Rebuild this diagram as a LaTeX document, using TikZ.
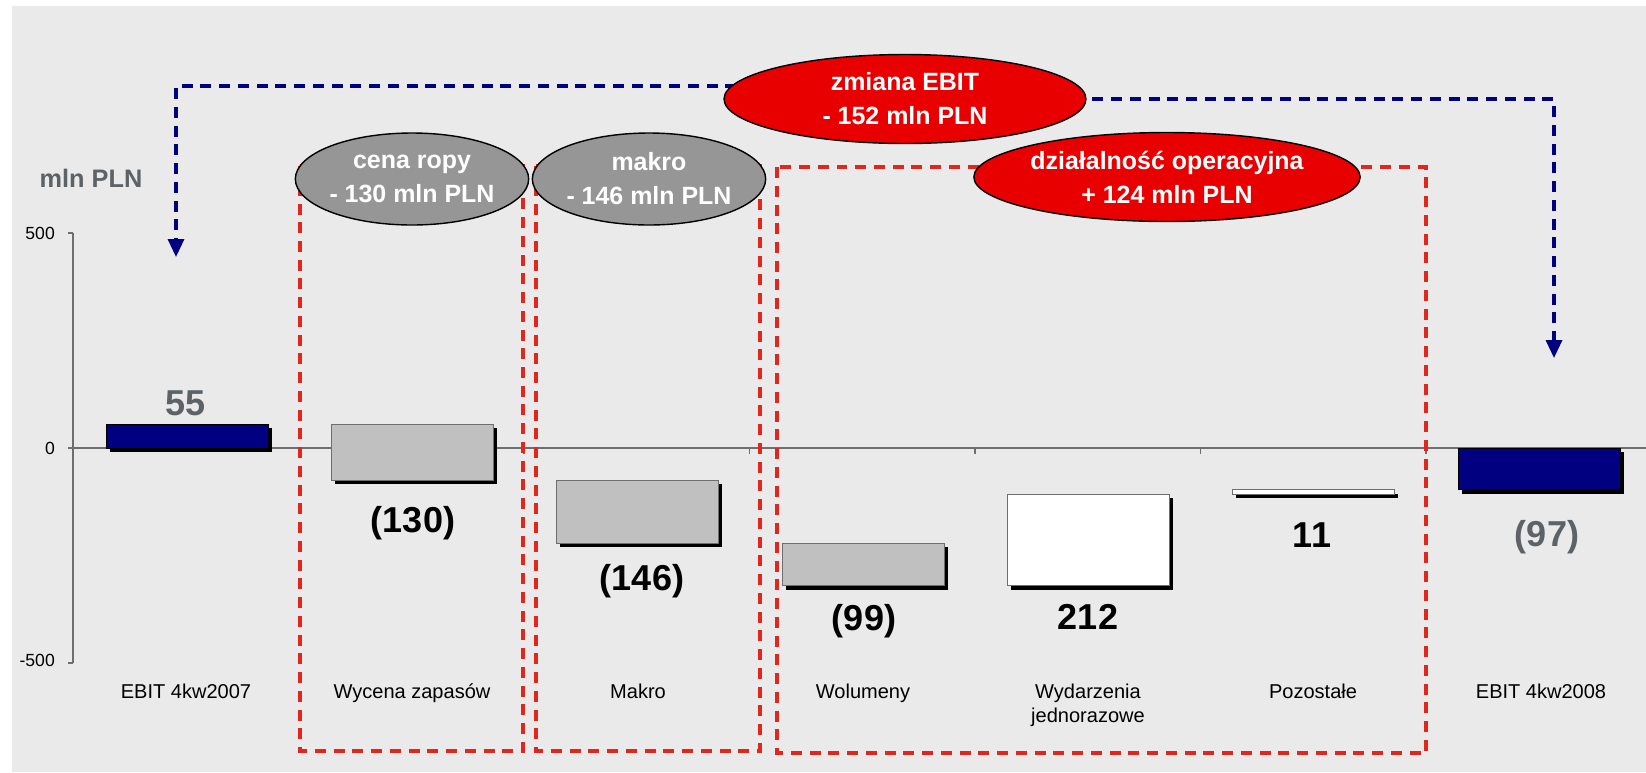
\documentclass[tikz,border=0pt]{standalone}
\usepackage{fontspec}
\setmainfont{Liberation Sans}
\usetikzlibrary{shapes.geometric,arrows.meta,calc,backgrounds}
\definecolor{tlo}{HTML}{EAEAEA}
\definecolor{granat}{HTML}{000080}
\definecolor{szary}{HTML}{C0C0C0}
\definecolor{szaryel}{HTML}{969696}
\definecolor{czerwony}{HTML}{E80000}
\definecolor{kreska}{HTML}{E3261B}
\definecolor{napis}{HTML}{5C6266}
\definecolor{os}{HTML}{6E6E6E}
\tikzset{
  elipsa/.style={ellipse, draw=black, line width=0.8pt, inner sep=0pt, align=center, text=white,
    font=\bfseries\fontsize{14.2}{19.3}\selectfont},
  ramka/.style={draw=kreska, line width=2pt, dash pattern=on 0.22cm off 0.155cm},
  strzalka/.style={draw=granat, line width=1.9pt, dash pattern=on 0.22cm off 0.155cm,
    -{Triangle[width=0.32cm,length=0.36cm]}},
  kategoria/.style={font=\fontsize{11.4}{13.7}\selectfont, align=center, anchor=north},
  wartosc/.style={font=\bfseries\fontsize{20.5}{24}\selectfont},
  podzialka/.style={font=\fontsize{10}{12}\selectfont, anchor=east}
}
% slupek: srodek x, gora, dol, styl wypelnienia
\newcommand{\slupek}[4]{%
  \fill[black] (#1-77,#2+4) rectangle (#1+85,#3+4);
  \draw[#4] (#1-81,#2) rectangle (#1+81,#3);}

\begin{document}
\begin{tikzpicture}[x=0.02cm,y=-0.02cm]
		%%%%% START %%%%%
		\useasboundingbox (0,0) rectangle (1646,772);
		\begin{scope}[on background layer]
			\fill[tlo] (12,6) rectangle (1646,772);
		\end{scope}
		
		% osie
		\draw[os, line width=0.8pt] (73,233) -- (73,663);
		\draw[os, line width=0.8pt] (68,233) -- (73,233);
		\draw[os, line width=0.8pt] (68,448) -- (73,448);
		\draw[os, line width=0.8pt] (68,663) -- (73,663);
		\draw[os, line width=0.8pt] (73,448) -- (1646,448);
		\foreach \k in {1,...,6}
			\draw[os, line width=0.8pt] (73+225.5*\k,448) -- (73+225.5*\k,454);
		
		\node[podzialka] (t500) at (61,233) {500};
		\node[podzialka] (t0) at (61,448) {0};
		\node[podzialka] (tm500) at (61,660) {-500};
		\node[font=\bfseries\fontsize{14.4}{17}\selectfont, text=napis] (jedn) at (91,178) {mln PLN};
		
		% slupki
		\slupek{187}{424.4}{448}{fill=granat}
		\slupek{412}{424.4}{480.3}{draw=os, fill=szary}
		\slupek{637}{480.3}{543}{draw=os, fill=szary}
		\slupek{863}{543}{585.6}{draw=os, fill=szary}
		\slupek{1088}{494.4}{585.6}{draw=os, fill=white}
		\slupek{1313}{489.7}{494.4}{draw=os, fill=white}
		\slupek{1539}{448}{489.7}{fill=granat}
		\draw[os, line width=0.8pt] (1426,448) -- (1426,454);
		
		% wartosci
		\node[wartosc, text=napis] (w1) at (186,403) {55};
		\node[wartosc] (w2) at (413,523) {(130)};
		\node[wartosc] (w3) at (642,581) {(146)};
		\node[wartosc] (w4) at (864,621) {(99)};
		\node[wartosc] (w5) at (1088,617) {212};
		\node[wartosc] (w6) at (1312,535) {11};
		\node[wartosc, text=napis] (w7) at (1547,537) {(97)};
		
		% kategorie
		\node[kategoria] (k1) at (186,678) {EBIT 4kw2007};
		\node[kategoria] (k2) at (412,678) {Wycena zapasów};
		\node[kategoria] (k3) at (638,678) {Makro};
		\node[kategoria] (k4) at (863,678) {Wolumeny};
		\node[kategoria] (k5) at (1088,678) {Wydarzenia\\jednorazowe};
		\node[kategoria] (k6) at (1313,678) {Pozostałe};
		\node[kategoria] (k7) at (1541,678) {EBIT 4kw2008};
		
		% ramki
		\draw[ramka] (300,166) rectangle (523,751);
		\draw[ramka] (536,166) rectangle (760,751);
		\draw[ramka] (777,167) rectangle (1426,753);
		
		% elipsy
		\node[elipsa, fill=szaryel, minimum width=4.5cm, minimum height=1.84cm] (ropa) at (412,179) {cena ropy\\- 130 mln PLN};
		\node[elipsa, fill=szaryel, minimum width=4.5cm, minimum height=1.84cm] (makro) at (649,179) {makro\\- 146 mln PLN};
		\node[elipsa, fill=czerwony, minimum width=7.24cm, minimum height=1.78cm] (ebit) at (905,99) {zmiana EBIT\\- 152 mln PLN};
		\node[elipsa, fill=czerwony, minimum width=7.02cm, minimum height=1.78cm] (oper) at (1167,177) {działalność operacyjna\\+ 124 mln PLN};
		
		% strzalki
		\coordinate (celL) at (176,257);
		\coordinate (celR) at (1554,358);
		\begin{scope}[on background layer]
			\draw[strzalka] ($(ebit.center)+(0,-13)$) -| (celL);
			\draw[strzalka] (ebit.center) -| (celR);
		\end{scope}
		%%%%% END %%%%%
	\end{tikzpicture}
\end{document}
